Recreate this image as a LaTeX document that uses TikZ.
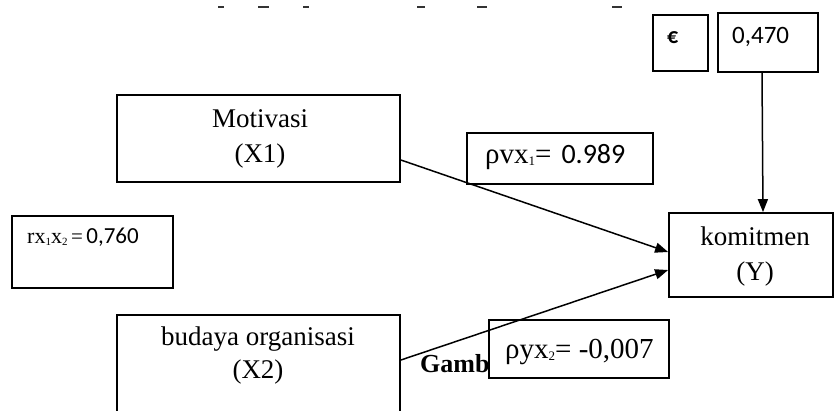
\documentclass[tikz,border=0pt]{standalone}
\usepackage{fontspec}
\setmainfont{Liberation Serif}
\newfontfamily\serf{Liberation Serif}
\newfontfamily\calib{Carlito}
\usetikzlibrary{arrows.meta}
\newcommand\mysub[1]{\raisebox{-0.1em}{\fontsize{13}{14}\selectfont #1}}
\begin{document}
\begin{tikzpicture}[x=1pt,y=-1pt,
  box/.style={draw, line width=1.8pt, inner sep=0pt, fill=none},
  txt/.style={inner sep=0pt, anchor=base},
  txtw/.style={inner sep=0pt, anchor=base west},
  arr/.style={line width=1.5pt, -{Triangle[length=13pt,width=10pt]}},
  big/.style={font=\serf\fontsize{27}{30}\selectfont}
]
\useasboundingbox (0,0) rectangle (835,410);
\clip (0,0) rectangle (835,410);

% top remnants
\foreach \a/\b in {218/224,258/269,303/309,417/425,477/487,612/622}
  \draw[line width=2pt, black!80] (\a,7) -- (\b,7);

% boxes
\node[box, minimum width=283pt, minimum height=87pt] (mot) at (258.5,138.5) {};
\node[box, minimum width=283pt, minimum height=115pt] (bud) at (258.5,372.5) {};
\node[box, minimum width=164pt, minimum height=84pt] (kom) at (751,255) {};
\node[box, minimum width=55pt, minimum height=56pt] (eps) at (680.5,43) {};
\node[box, minimum width=100pt, minimum height=59pt] (v047) at (768,42.5) {};
\node[box, minimum width=186pt, minimum height=51pt] (pvx) at (560,158.5) {};
\node[box, minimum width=161pt, minimum height=72pt] (rxx) at (92.5,252) {};

% texts
\node[txt, big] (motA) at (260,127) {Motivasi};
\node[txt, big] (motB) at (260,162) {(X1)};
\node[txt, big] (budA) at (258,345) {budaya organisasi};
\node[txt, big] (budB) at (258,378) {(X2)};
\node[txt, big] (komA) at (755,245) {komitmen};
\node[txt, big] (komB) at (755,280) {(Y)};
\node[txtw, font=\calib\bfseries\fontsize{22}{24}\selectfont] (epsT) at (667,43) {€};
\node[txtw, font=\calib\fontsize{25}{27}\selectfont] (v047T) at (732,43) {0,470};
\node[txtw, font=\serf\fontsize{29}{31}\selectfont] (pvxT) at (485,163) {ρvx\mysub{1}=\hspace{10pt}{\calib\fontsize{28}{30}\selectfont 0.989}};
\node[txtw, font=\serf\fontsize{22}{23}\selectfont] (rxxT) at (27,243) {rx\mysub{\fontsize{11}{12}\selectfont 1}x\mysub{\fontsize{11}{12}\selectfont 2}{\fontsize{21}{22}\selectfont\,=\,}{\calib\fontsize{23}{24}\selectfont 0,760}};
\node[txtw, font=\serf\bfseries\fontsize{26}{28}\selectfont] (gamb) at (420,372) {Gamb};
\node[box, minimum width=180pt, minimum height=58pt] (pyx) at (579,349) {};
\node[txtw, font=\serf\fontsize{29}{31}\selectfont] (pyxT) at (505,358) {ρyx\mysub{2}= -0,007};

% connectors
\draw[arr] ([yshift=-21.5pt]mot.east) -- ([yshift=3pt]kom.west);
\draw[arr] ([yshift=12.5pt]bud.east) -- ([yshift=-15pt]kom.west);
\draw[arr] ([xshift=-6pt]v047.south) -- ([xshift=12pt]kom.north);
\end{tikzpicture}
\end{document}
